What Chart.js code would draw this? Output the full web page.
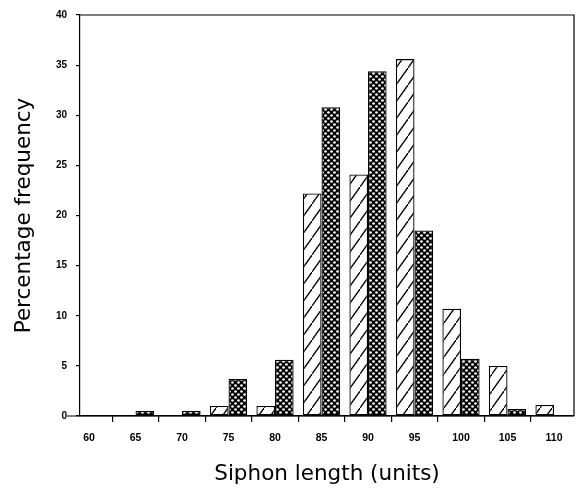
<!DOCTYPE html>
<html>
<head>
<meta charset="utf-8">
<script src="https://cdn.jsdelivr.net/npm/chart.js@4/dist/chart.umd.min.js"></script>
<style>
html,body{margin:0;padding:0;background:#fff;}
#wrap{width:582px;height:498px;position:relative;}
</style>
</head>
<body>
<div id="wrap"><canvas id="c" width="582" height="498"></canvas></div>
<script>
// Data
const categories = [60, 65, 70, 75, 80, 85, 90, 95, 100, 105, 110];
const tickLabels = ['60', '65', '70', '75', '80', '85', '90', '95', '100', '105', '110'];
const hatchedValues = [null, null, null, 1.0, 1.0, 22.2, 24.1, 35.6, 10.7, 5.0, 1.1];
const crossValues = [null, 0.5, 0.5, 3.7, 5.6, 30.8, 34.4, 18.5, 5.7, 0.7, null];
const yTicks = [0, 5, 10, 15, 20, 25, 30, 35, 40];

function hatchPattern() {
  const w = 12, h = 17;
  const cv = document.createElement('canvas');
  cv.width = w; cv.height = h;
  const g = cv.getContext('2d');
  g.fillStyle = '#fff'; g.fillRect(0, 0, w, h);
  g.strokeStyle = '#000'; g.lineWidth = 1.3;
  g.beginPath();
  g.moveTo(-w, 2 * h); g.lineTo(2 * w, -h);
  g.stroke();
  return g.createPattern(cv, 'repeat');
}
function crossPattern() {
  const s = 6;
  const cv = document.createElement('canvas');
  cv.width = s; cv.height = s;
  const g = cv.getContext('2d');
  g.fillStyle = '#000'; g.fillRect(0, 0, s, s);
  g.fillStyle = '#fff';
  [[1.5, 1.5], [4.5, 4.5]].forEach(p => {
    g.beginPath(); g.arc(p[0], p[1], 1.35, 0, Math.PI * 2); g.fill();
  });
  return g.createPattern(cv, 'repeat');
}

const toPts = arr => categories.map((c, i) => ({ x: c, y: arr[i] }));

const boxPlugin = {
  id: 'box',
  afterDraw(chart) {
    const a = chart.chartArea, ctx = chart.ctx;
    ctx.save();
    ctx.strokeStyle = '#000';
    ctx.lineWidth = 1.2;
    ctx.beginPath();
    ctx.moveTo(a.left, a.top); ctx.lineTo(a.right, a.top); ctx.lineTo(a.right, a.bottom);
    ctx.moveTo(a.left - 13, a.bottom); ctx.lineTo(a.right, a.bottom);
    ctx.stroke();
    ctx.restore();
  }
};

new Chart(document.getElementById('c'), {
  type: 'bar',
  data: {
    datasets: [
      { label: 'A', data: toPts(hatchedValues), backgroundColor: hatchPattern(), borderColor: '#000', borderWidth: 1.3, borderSkipped: false },
      { label: 'B', data: toPts(crossValues), backgroundColor: crossPattern(), borderColor: '#000', borderWidth: 1.3, borderSkipped: false }
    ]
  },
  options: {
    responsive: false,
    animation: false,
    events: [],
    layout: { padding: { left: 0, right: 8, top: 12, bottom: 0 } },
    datasets: { bar: { categoryPercentage: 0.8, barPercentage: 1.0 } },
    plugins: { legend: { display: false }, tooltip: { enabled: false } },
    scales: {
      x: {
        type: 'linear',
        min: 59.03, max: 112.15,
        offset: false,
        afterBuildTicks(scale) { scale.ticks = categories.map(v => ({ value: v })); },
        afterFit(scale) { scale.height = 82; },
        grid: { drawOnChartArea: false, tickLength: 6, color: '#000', lineWidth: 1.2 },
        border: { display: true, color: '#000', width: 1.2 },
        ticks: {
          color: '#000', padding: 10, maxRotation: 0, autoSkip: false,
          font: { family: 'Liberation Sans', size: 10.5, weight: 'bold' },
          callback: (v) => { const i = categories.indexOf(v); return i >= 0 ? tickLabels[i] : ''; }
        },
        title: { display: true, text: 'Siphon length (units)', color: '#000', padding: { top: 8, bottom: 11 },
          font: { family: 'DejaVu Sans', size: 21.5 } }
      },
      y: {
        min: 0, max: 40,
        afterBuildTicks(scale) { scale.ticks = yTicks.map(v => ({ value: v })); },
        afterFit(scale) { scale.width = 80; },
        grid: { drawOnChartArea: false, tickLength: 4, color: '#000', lineWidth: 1.2 },
        border: { display: true, color: '#000', width: 1.2 },
        ticks: { color: '#000', padding: 9, font: { family: 'Liberation Sans', size: 10, weight: 'bold' } },
        title: { display: true, text: 'Percentage frequency', color: '#000', padding: { top: 12, bottom: 0 },
          font: { family: 'DejaVu Sans', size: 21.5 } }
      }
    }
  },
  plugins: [boxPlugin]
});
</script>
</body>
</html>
